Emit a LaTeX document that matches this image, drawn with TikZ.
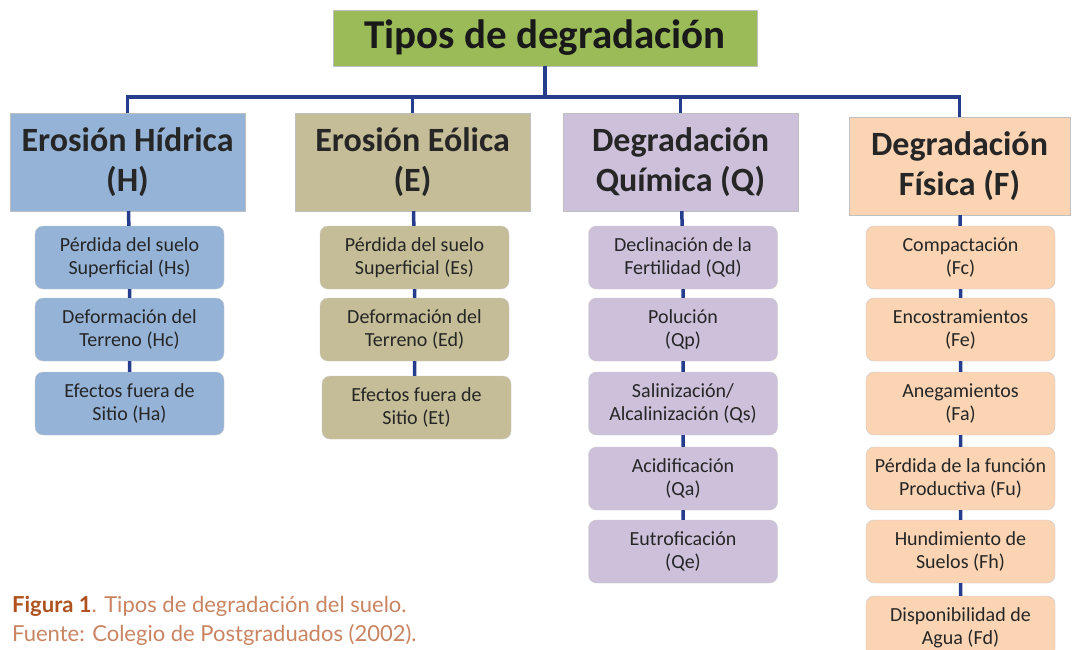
\documentclass[tikz,border=0pt]{standalone}
\usepackage{fontspec}
\setmainfont{Carlito}
\newfontfamily\capfont{Lato}
\usetikzlibrary{positioning}

\definecolor{topgreen}{HTML}{9BBB59}
\definecolor{hblue}{HTML}{95B3D7}
\definecolor{etan}{HTML}{C4BD97}
\definecolor{qlila}{HTML}{CCC0DA}
\definecolor{fpeach}{HTML}{FBD4B4}
\definecolor{linknavy}{HTML}{263C8C}
\definecolor{capdark}{HTML}{B0521F}
\definecolor{caplight}{HTML}{C98462}

\tikzset{
  link/.style={draw=linknavy, line width=3.5pt},
  topbox/.style={draw=black!25, fill=topgreen, minimum width=424pt, minimum height=56pt,
    font=\fontsize{41}{44}\selectfont\bfseries, text=black!90},
  groupbox/.style={draw=black!25, minimum width=235pt, minimum height=98pt, align=center,
    font=\fontsize{34}{40}\selectfont\bfseries, text=black!85},
  itembox/.style={draw=black!20, rounded corners=8pt, minimum width=189pt, minimum height=63pt,
    align=center, font=\fontsize{20}{23}\selectfont, text=black!85}
}

\begin{document}
\begin{tikzpicture}[x=1pt, y=-1pt]
  \clip (0,0) rectangle (1072,649);
  \fill[white] (0,0) rectangle (1072,649);

  % title and the four groups
  \node[topbox] (top) at (545, 38) {Tipos de degradación};
  \node[groupbox, fill=hblue]  (H) at (127.5, 162) {Erosión Hídrica\\(H)};
  \node[groupbox, fill=etan]   (E) at (412.5, 162) {Erosión Eólica\\(E)};
  \node[groupbox, fill=qlila]  (Q) at (680.5, 162) {Degradación\\Química (Q)};
  \node[groupbox, fill=fpeach, minimum width=221pt] (F) at (959.5, 166) {Degradación\\Física (F)};

  \coordinate (bar) at (0, 97);
  \draw[link] (top.south) -- (top.south |- bar);
  \draw[link] (H.north) -- (H.north |- bar) -- (F.north |- bar) -- (F.north);
  \draw[link] (E.north) -- (E.north |- bar);
  \draw[link] (Q.north) -- (Q.north |- bar);

  % erosion hidrica
  \node[itembox, fill=hblue] (Hs) at (129.5, 257.5) {Pérdida del suelo\\Superficial (Hs)};
  \node[itembox, fill=hblue] (Hc) at (129.5, 329.5) {Deformación del\\Terreno (Hc)};
  \node[itembox, fill=hblue] (Ha) at (129.5, 403.5) {Efectos fuera de\\Sitio (Ha)};
  \draw[link] (H) -- (Hs) -- (Hc) -- (Ha);

  % erosion eolica
  \node[itembox, fill=etan] (Es) at (414.5, 257.5) {Pérdida del suelo\\Superficial (Es)};
  \node[itembox, fill=etan] (Ed) at (414.5, 329.5) {Deformación del\\Terreno (Ed)};
  \node[itembox, fill=etan] (Et) at (416.5, 407.5) {Efectos fuera de\\Sitio (Et)};
  \draw[link] (E) -- (Es) -- (Ed) -- (Ed |- Et.north);

  % degradacion quimica
  \node[itembox, fill=qlila] (Qd) at (683, 257.5) {Declinación de la\\Fertilidad (Qd)};
  \node[itembox, fill=qlila] (Qp) at (683, 329.5) {Polución\\(Qp)};
  \node[itembox, fill=qlila] (Qs) at (683, 403.5) {Salinización/\\Alcalinización (Qs)};
  \node[itembox, fill=qlila] (Qa) at (683, 478.5) {Acidificación\\(Qa)};
  \node[itembox, fill=qlila] (Qe) at (683, 551.5) {Eutroficación\\(Qe)};
  \draw[link] (Q) -- (Qd) -- (Qp) -- (Qs) -- (Qa) -- (Qe);

  % degradacion fisica
  \node[itembox, fill=fpeach] (Fc) at (960.5, 257.5) {Compactación\\(Fc)};
  \node[itembox, fill=fpeach] (Fe) at (960.5, 329.5) {Encostramientos\\(Fe)};
  \node[itembox, fill=fpeach] (Fa) at (960.5, 403.5) {Anegamientos\\(Fa)};
  \node[itembox, fill=fpeach] (Fu) at (960.5, 478.5) {Pérdida de la función\\Productiva (Fu)};
  \node[itembox, fill=fpeach] (Fh) at (960.5, 551.5) {Hundimiento de\\Suelos (Fh)};
  \node[itembox, fill=fpeach] (Fd) at (960.5, 627.5) {Disponibilidad de\\Agua (Fd)};
  \draw[link] (F) -- (Fc) -- (Fe) -- (Fa) -- (Fu) -- (Fh) -- (Fd);

  % caption
  \node[anchor=north west, align=left, inner sep=0pt, text=caplight,
    font=\capfont\fontsize{22}{29}\selectfont] (cap) at (12, 596)
    {{\bfseries\color{capdark}Figura 1}. Tipos de degradación del suelo.\\Fuente: Colegio de Postgraduados (2002).};
\end{tikzpicture}
\end{document}
